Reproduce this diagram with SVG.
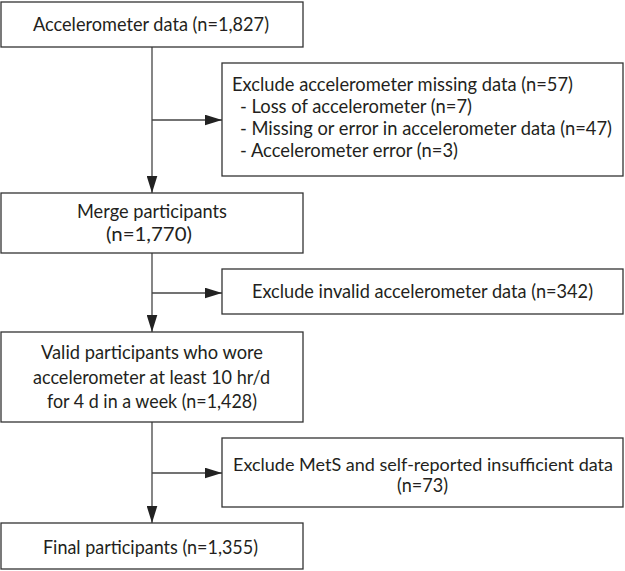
<svg xmlns="http://www.w3.org/2000/svg" width="625" height="571" viewBox="0 0 625 571">
<style>
.box{fill:#fff;stroke:#333;stroke-width:1.3}
.t{font-family:Lato,"Noto Sans",sans-serif;font-size:19px;fill:#231f20}
.s{font-size:18px}
.m{text-anchor:middle}
.c{fill:none;stroke:#444;stroke-width:1.3}
</style>
<defs>
<marker id="ah" markerUnits="userSpaceOnUse" markerWidth="17" markerHeight="11" refX="16" refY="5" orient="auto" viewBox="0 0 16 10">
<path d="M0,0 L16,5 L0,10 Z" fill="#222"/>
</marker>
</defs>
<rect width="625" height="571" fill="#fff"/>
<g id="connectors">
<line class="c" x1="152" y1="47" x2="152" y2="193" marker-end="url(#ah)"/>
<line class="c" x1="152" y1="120" x2="222" y2="120" marker-end="url(#ah)"/>
<line class="c" x1="152" y1="253" x2="152" y2="332" marker-end="url(#ah)"/>
<line class="c" x1="152" y1="293" x2="222" y2="293" marker-end="url(#ah)"/>
<line class="c" x1="152" y1="422" x2="152" y2="523" marker-end="url(#ah)"/>
<line class="c" x1="152" y1="473" x2="222" y2="473" marker-end="url(#ah)"/>
</g>
<g id="n1">
<rect class="box" x="1" y="2" width="302" height="45"/>
<text class="t m" x="151" y="31" textLength="236" lengthAdjust="spacingAndGlyphs">Accelerometer data (n=1,827)</text>
</g>
<g id="n2">
<rect class="box" x="222" y="63" width="401" height="113"/>
<text class="t" x="232" y="91" textLength="341" lengthAdjust="spacingAndGlyphs">Exclude accelerometer missing data (n=57)</text>
<text class="t" x="240" y="113" textLength="232" lengthAdjust="spacingAndGlyphs">- Loss of accelerometer (n=7)</text>
<text class="t" x="240" y="135" textLength="372" lengthAdjust="spacingAndGlyphs">- Missing or error in accelerometer data (n=47)</text>
<text class="t" x="240" y="157" textLength="218" lengthAdjust="spacingAndGlyphs">- Accelerometer error (n=3)</text>
</g>
<g id="n3">
<rect class="box" x="1" y="193" width="302" height="60"/>
<text class="t m" x="152" y="218" textLength="150" lengthAdjust="spacingAndGlyphs">Merge participants</text>
<text class="t m" x="149" y="241" textLength="86" lengthAdjust="spacingAndGlyphs">(n=1,770)</text>
</g>
<g id="n4">
<rect class="box" x="222" y="269" width="401" height="45"/>
<text class="t m" x="422.5" y="298" textLength="341" lengthAdjust="spacingAndGlyphs">Exclude invalid accelerometer data (n=342)</text>
</g>
<g id="n5">
<rect class="box" x="1" y="332" width="302" height="90"/>
<text class="t m" x="152" y="359" textLength="222" lengthAdjust="spacingAndGlyphs">Valid participants who wore</text>
<text class="t m" x="151.5" y="384" textLength="237" lengthAdjust="spacingAndGlyphs">accelerometer at least 10 hr/d</text>
<text class="t m" x="152" y="408" textLength="210" lengthAdjust="spacingAndGlyphs">for 4 d in a week (n=1,428)</text>
</g>
<g id="n6">
<rect class="box" x="222" y="438" width="401" height="69"/>
<text class="t s m" x="423" y="471" textLength="380" lengthAdjust="spacingAndGlyphs">Exclude MetS and self-reported insufficient data</text>
<text class="t m" x="422.5" y="492" textLength="51" lengthAdjust="spacingAndGlyphs">(n=73)</text>
</g>
<g id="n7">
<rect class="box" x="1" y="523" width="302" height="46"/>
<text class="t m" x="150.5" y="554" textLength="215" lengthAdjust="spacingAndGlyphs">Final participants (n=1,355)</text>
</g>
</svg>
